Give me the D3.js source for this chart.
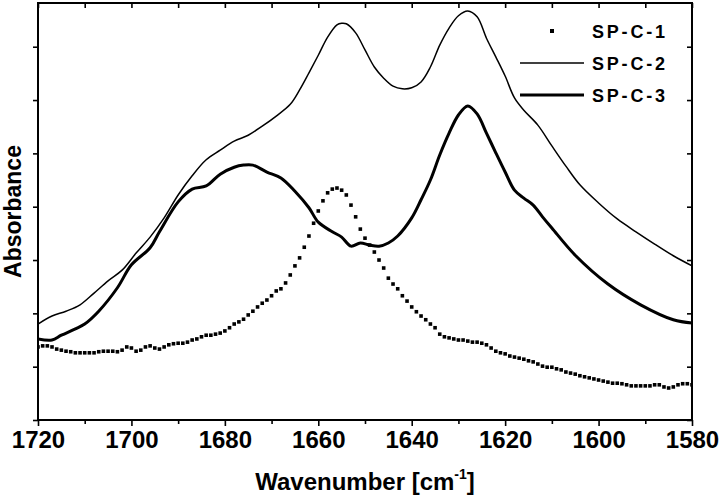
<!DOCTYPE html>
<html>
<head>
<meta charset="utf-8">
<script src="https://cdn.jsdelivr.net/npm/d3@7"></script>
<style>
  body { margin: 0; background: #fff; }
  svg { display: block; font-family: "Liberation Sans", Arial, sans-serif; font-weight: bold; }
</style>
</head>
<body>
<div id="chart"></div>
<script>

// --------------------------------------
//  Data
// --------------------------------------

const sp1Wavenumber = [
  1720, 1719, 1718, 1717, 1716, 1715, 1714, 1713, 1712, 1711,
  1710, 1709, 1708, 1707, 1706, 1705, 1704, 1703, 1702, 1701,
  1700, 1699, 1698, 1697, 1696, 1695, 1694, 1693, 1692, 1691,
  1690, 1689, 1688, 1687, 1686, 1685, 1684, 1683, 1682, 1681,
  1680, 1679, 1678, 1677, 1676, 1675, 1674, 1673, 1672, 1671,
  1670, 1669, 1668, 1667, 1666, 1665, 1664, 1663, 1662, 1661,
  1660, 1659, 1658, 1657, 1656, 1655, 1654, 1653, 1652, 1651,
  1650, 1649, 1648, 1647, 1646, 1645, 1644, 1643, 1642, 1641,
  1640, 1639, 1638, 1637, 1636, 1635, 1634, 1633, 1632, 1631,
  1630, 1629, 1628, 1627, 1626, 1625, 1624, 1623, 1622, 1621,
  1620, 1619, 1618, 1617, 1616, 1615, 1614, 1613, 1612, 1611,
  1610, 1609, 1608, 1607, 1606, 1605, 1604, 1603, 1602, 1601,
  1600, 1599, 1598, 1597, 1596, 1595, 1594, 1593, 1592, 1591,
  1590, 1589, 1588, 1587, 1586, 1585, 1584, 1583, 1582, 1581,
  1580];

const sp1Absorbance = [
  0.137, 0.139, 0.139, 0.137, 0.133, 0.131, 0.129, 0.128, 0.126, 0.126,
  0.126, 0.126, 0.126, 0.128, 0.129, 0.129, 0.129, 0.128, 0.131, 0.137,
  0.135, 0.129, 0.131, 0.137, 0.139, 0.135, 0.133, 0.137, 0.141, 0.143,
  0.144, 0.144, 0.146, 0.150, 0.152, 0.156, 0.159, 0.159, 0.161, 0.163,
  0.167, 0.173, 0.180, 0.184, 0.189, 0.197, 0.204, 0.212, 0.219, 0.225,
  0.233, 0.242, 0.246, 0.257, 0.272, 0.289, 0.304, 0.324, 0.345, 0.369,
  0.392, 0.411, 0.426, 0.433, 0.435, 0.431, 0.422, 0.403, 0.381, 0.358,
  0.341, 0.328, 0.315, 0.300, 0.285, 0.266, 0.255, 0.246, 0.233, 0.223,
  0.212, 0.203, 0.195, 0.188, 0.180, 0.173, 0.161, 0.156, 0.154, 0.152,
  0.150, 0.150, 0.148, 0.146, 0.146, 0.144, 0.141, 0.135, 0.129, 0.126,
  0.124, 0.120, 0.118, 0.116, 0.114, 0.111, 0.109, 0.105, 0.101, 0.099,
  0.099, 0.096, 0.094, 0.090, 0.088, 0.086, 0.083, 0.081, 0.079, 0.077,
  0.075, 0.073, 0.071, 0.069, 0.069, 0.068, 0.066, 0.064, 0.064, 0.064,
  0.064, 0.064, 0.066, 0.066, 0.062, 0.060, 0.062, 0.066, 0.068, 0.068,
  0.066];

const sp2Wavenumber = [
  1720, 1717, 1714, 1711, 1708, 1705, 1702, 1699, 1696, 1693,
  1690, 1687, 1684, 1681, 1678, 1675, 1672, 1669, 1666, 1664,
  1662, 1660, 1658, 1656, 1655, 1654, 1652, 1650, 1648, 1646,
  1644, 1642, 1640, 1638, 1636, 1634, 1632, 1630, 1628, 1626,
  1624, 1622, 1620, 1618, 1616, 1613, 1610, 1607, 1604, 1600,
  1596, 1592, 1588, 1584, 1580];

const sp2Absorbance = [
  0.180, 0.195, 0.204, 0.216, 0.238, 0.261, 0.281, 0.313, 0.343, 0.379,
  0.422, 0.458, 0.488, 0.506, 0.523, 0.534, 0.551, 0.570, 0.592, 0.619,
  0.651, 0.684, 0.718, 0.741, 0.744, 0.743, 0.726, 0.694, 0.662, 0.641,
  0.626, 0.621, 0.623, 0.634, 0.662, 0.703, 0.735, 0.758, 0.767, 0.756,
  0.716, 0.681, 0.645, 0.604, 0.581, 0.553, 0.514, 0.476, 0.441, 0.407,
  0.377, 0.353, 0.330, 0.308, 0.289];

const sp3Wavenumber = [
  1720, 1717, 1715, 1712, 1710, 1707, 1703, 1700, 1696, 1694,
  1690, 1687, 1684, 1681, 1678, 1676, 1674, 1671, 1668, 1665,
  1662, 1660, 1657, 1655, 1653, 1651, 1649, 1647, 1645, 1643,
  1640, 1638, 1636, 1634, 1632, 1630, 1628, 1626, 1624, 1622,
  1620, 1618, 1616, 1614, 1612, 1610, 1605, 1598, 1591, 1584,
  1580];

const sp3Absorbance = [
  0.152, 0.150, 0.159, 0.171, 0.180, 0.204, 0.248, 0.291, 0.323, 0.353,
  0.409, 0.433, 0.439, 0.461, 0.474, 0.478, 0.478, 0.465, 0.454, 0.429,
  0.398, 0.371, 0.353, 0.343, 0.326, 0.332, 0.328, 0.326, 0.332, 0.345,
  0.379, 0.413, 0.450, 0.497, 0.538, 0.572, 0.589, 0.574, 0.538, 0.501,
  0.465, 0.431, 0.416, 0.403, 0.381, 0.360, 0.309, 0.255, 0.216, 0.188,
  0.182];

const seriesNames = ["SP-C-1", "SP-C-2", "SP-C-3"];
const xMajorTicks = [1720, 1700, 1680, 1660, 1640, 1620, 1600, 1580];
const xMinorTicks = [1710, 1690, 1670, 1650, 1630, 1610, 1590];
const yTicks = [0, 0.1, 0.2, 0.3, 0.4, 0.5, 0.6, 0.7];

// --------------------------------------
//  Margin and canvas
// --------------------------------------

const margin = {top: 3, right: 28, bottom: 78, left: 38};
const width = 720;
const height = 498;
const innerwidth = width - margin.left - margin.right;
const innerheight = height - margin.top - margin.bottom;

const svg = d3.select("#chart")
  .append("svg")
    .attr("width", width)
    .attr("height", height)
    .attr("viewBox", `0, 0, ${width}, ${height}`);

const innerChart = svg
  .append("g")
    .attr("transform", `translate(${margin.left}, ${margin.top})`);

// --------------------------------------
//  Scales
// --------------------------------------

let x = d3.scaleLinear()
    .domain([1720, 1580])
    .range([0, innerwidth]);

let y = d3.scaleLinear()
    .domain([0, 0.782])
    .range([innerheight, 0]);

// --------------------------------------
//  Axes
// --------------------------------------

function styleAxis(g) {
  g.select(".domain").remove();
  g.selectAll(".tick line").attr("stroke", "#000").attr("stroke-width", 1.6);
  g.selectAll(".tick text")
    .attr("fill", "#000")
    .style("font-size", "24px")
    .style("font-weight", "bold");
}

innerChart.append("g")
    .attr("class", "x-axis")
    .attr("transform", `translate(0, ${innerheight})`)
    .call(d3.axisBottom(x)
          .tickValues(xMajorTicks)
          .tickSize(6)
          .tickPadding(5)
          .tickFormat(d3.format("d")))
    .call(styleAxis);

innerChart.append("g")
    .attr("class", "x-axis-minor")
    .attr("transform", `translate(0, ${innerheight})`)
    .call(d3.axisBottom(x)
          .tickValues(xMinorTicks)
          .tickSize(4)
          .tickFormat(""))
    .call(styleAxis);

innerChart.append("g")
    .attr("class", "x-axis-top")
    .call(d3.axisTop(x)
          .tickValues(xMajorTicks.concat(xMinorTicks))
          .tickSize(-5)
          .tickFormat(""))
    .call(styleAxis);

innerChart.append("g")
    .attr("class", "y-axis")
    .call(d3.axisLeft(y)
          .tickValues(yTicks)
          .tickSize(5)
          .tickFormat(""))
    .call(styleAxis);

innerChart.append("g")
    .attr("class", "y-axis-right")
    .attr("transform", `translate(${innerwidth}, 0)`)
    .call(d3.axisRight(y)
          .tickValues(yTicks)
          .tickSize(-5)
          .tickFormat(""))
    .call(styleAxis);

innerChart.append("rect")
    .attr("width", innerwidth)
    .attr("height", innerheight)
    .attr("fill", "none")
    .attr("stroke", "#000")
    .attr("stroke-width", 2);

// axis titles
const xTitle = svg.append("text")
    .attr("x", margin.left + innerwidth / 2)
    .attr("y", 490)
    .attr("text-anchor", "middle")
    .style("font-size", "24px");
xTitle.append("tspan").text("Wavenumber [cm");
xTitle.append("tspan").attr("dy", -11).style("font-size", "14px").text("-1");
xTitle.append("tspan").attr("dy", 11).text("]");

svg.append("text")
    .attr("transform", `translate(21, ${margin.top + innerheight / 2}) rotate(-90)`)
    .attr("text-anchor", "middle")
    .style("font-size", "23px")
    .text("Absorbance");

// --------------------------------------
//  Data drawing
// --------------------------------------

svg.append("clipPath")
    .attr("id", "plot-clip")
  .append("rect")
    .attr("width", innerwidth)
    .attr("height", innerheight);

const plot = innerChart.append("g").attr("clip-path", "url(#plot-clip)");

const sp1 = sp1Wavenumber.map((w, i) => ({wn: w, a: sp1Absorbance[i]}));
const sp2 = sp2Wavenumber.map((w, i) => ({wn: w, a: sp2Absorbance[i]}));
const sp3 = sp3Wavenumber.map((w, i) => ({wn: w, a: sp3Absorbance[i]}));

const line = d3.line()
    .x(d => x(d.wn))
    .y(d => y(d.a))
    .curve(d3.curveCatmullRom.alpha(0.5));

plot.append("path")
    .datum(sp2)
    .attr("fill", "none")
    .attr("stroke", "#000")
    .attr("stroke-width", 1.5)
    .attr("d", line);

plot.append("path")
    .datum(sp3)
    .attr("fill", "none")
    .attr("stroke", "#000")
    .attr("stroke-width", 3)
    .attr("d", line);

const sq = 3.6;
plot.selectAll(".sq")
    .data(sp1)
    .join("rect")
    .attr("class", "sq")
    .attr("x", d => x(d.wn) - sq / 2)
    .attr("y", d => y(d.a) - sq / 2)
    .attr("width", sq)
    .attr("height", sq)
    .attr("fill", "#000");

// --------------------------------------
//  Legend
// --------------------------------------

const legend = svg.append("g").attr("transform", "translate(520, 31)");

seriesNames.forEach((name, i) => {
  const row = legend.append("g").attr("transform", `translate(0, ${i * 32})`);
  if (i === 0) {
    row.append("rect")
        .attr("x", 30).attr("y", -2)
        .attr("width", 4).attr("height", 4)
        .attr("fill", "#000");
  } else {
    row.append("line")
        .attr("x1", 0).attr("x2", 64)
        .attr("stroke", "#000")
        .attr("stroke-width", i === 1 ? 1.5 : 3);
  }
  row.append("text")
      .attr("x", 72)
      .attr("y", 6.5)
      .style("font-size", "18px")
      .style("letter-spacing", "2.8px")
      .text(name);
});

</script>
</body>
</html>
